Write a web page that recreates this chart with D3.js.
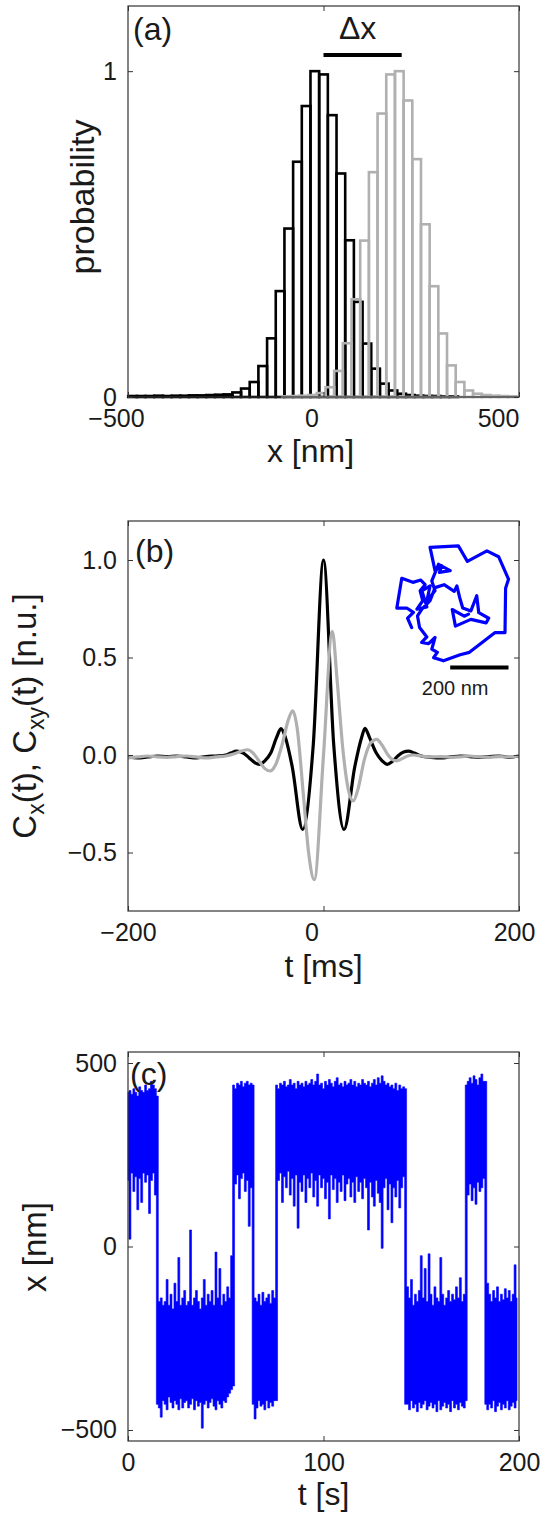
<!DOCTYPE html>
<html>
<head>
<meta charset="utf-8">
<script src="https://cdn.jsdelivr.net/npm/d3@7"></script>
<style>
  html, body { margin: 0; padding: 0; background: #fff; }
  svg { display: block; font-family: "Liberation Sans", Arial, Helvetica, sans-serif; }
</style>
</head>
<body>
<svg id="fig" width="543" height="1515"></svg>
<script>
/* Three stacked panels: (a) position histograms, (b) correlation functions + inset
   trajectory, (c) time trace of x(t) hopping between two states. */

// ---------- (a) histograms, bin centres in nm, heights normalised ----------
const BIN_W = 22.2;
const blackCenters = [-488.4, -466.2, -444, -421.8, -399.6, -377.4, -355.2, -333, -310.8, -288.6,
  -266.4, -244.2, -222, -199.8, -177.6, -155.4, -133.2, -111, -88.8, -66.6, -44.4, -22.2, 0,
  22.2, 44.4, 66.6, 88.8, 111, 133.2, 155.4, 177.6, 199.8, 222, 244.2, 266.4, 288.6, 310.8, 333];
const blackHeights = [0.003, 0.003, 0.003, 0.004, 0.003, 0.004, 0.004, 0.005, 0.005, 0.006,
  0.007, 0.008, 0.014, 0.026, 0.046, 0.095, 0.18, 0.325, 0.517, 0.722, 0.893, 1.0, 0.99,
  0.865, 0.686, 0.481, 0.292, 0.164, 0.087, 0.041, 0.02, 0.01, 0.006, 0.004, 0.003, 0.003, 0.002, 0.002];
const grayCenters = [-94.8, -72.6, -50.4, -28.2, -6, 16.2, 38.4, 60.6, 82.8, 105, 127.2, 149.4,
  171.6, 193.8, 216, 238.2, 260.4, 282.6, 304.8, 327, 349.2, 371.4, 393.6, 415.8, 438, 460.2, 482.4];
const grayHeights = [0.002, 0.003, 0.004, 0.006, 0.012, 0.03, 0.08, 0.165, 0.30, 0.48, 0.69, 0.87,
  0.99, 1.0, 0.91, 0.73, 0.53, 0.34, 0.195, 0.097, 0.046, 0.02, 0.01, 0.006, 0.004, 0.003, 0.002];
const DELTA_X = [0, 200];   // nm, bar above the peaks

// ---------- (b) correlation functions (t in ms) ----------
const cxT = [-200, -190, -180, -170, -160, -150, -140, -130, -120, -110, -100, -95, -88.8, -82, -76,
  -70, -65.7, -60, -54, -48, -43.5, -39, -32, -21.3, -10.5, 0, 10.5, 21, 32, 39, 42.5, 47, 54, 60,
  65.3, 70, 76, 82, 86.8, 93, 100, 110, 120, 130, 140, 150, 160, 170, 180, 190, 200];
const cxV = [-0.01, -0.015, -0.01, -0.005, -0.008, -0.005, -0.01, -0.015, -0.008, -0.005, 0.0, 0.01,
  0.02, 0.01, -0.015, -0.04, -0.048, -0.03, 0.01, 0.09, 0.135, 0.09, -0.06, -0.382, 0.05, 1.0, 0.05,
  -0.382, -0.06, 0.09, 0.137, 0.09, 0.01, -0.03, -0.048, -0.035, -0.005, 0.015, 0.02, 0.01, -0.005,
  -0.012, -0.015, -0.01, -0.005, -0.008, -0.012, -0.008, -0.005, -0.012, -0.005];
const cxyT = [-200, -190, -180, -170, -160, -150, -140, -130, -120, -110, -100, -92, -84, -77.6, -72,
  -66, -60, -54.7, -49, -42, -36, -31.5, -27, -20.5, -15, -9.4, 0, 9, 14, 20, 25.5, 30.5, 35, 42,
  48, 54.4, 60, 66, 71, 74.9, 80, 86, 92, 100, 110, 120, 130, 140, 150, 160, 170, 180, 190, 200];
const cxyV = [-0.015, -0.01, -0.005, -0.01, -0.012, -0.008, -0.005, -0.01, -0.015, -0.01, -0.005,
  0.005, 0.02, 0.027, 0.01, -0.03, -0.07, -0.082, -0.05, 0.06, 0.18, 0.226, 0.14, -0.21, -0.51,
  -0.639, 0.0, 0.634, 0.38, 0.02, -0.18, -0.236, -0.18, -0.02, 0.06, 0.08, 0.05, 0.0, -0.025, -0.03,
  -0.02, -0.005, 0.0, -0.005, -0.01, -0.008, -0.012, -0.01, -0.005, -0.01, -0.012, -0.008, -0.01, -0.005];

// inset trajectory (nm)
const trajX = [51, 37, 57, 34, 0, 6, 17, 55, 82, 97, 80, 89, 69, 103, 86, 114, 103, 131, 120, 143,
  183, 146, 154, 131, 114, 211, 242, 309, 349, 383, 373, 371, 337, 249, 217, 160, 126, 139, 120,
  131, 109, 85, 103, 78, 71, 86, 114, 131, 162, 197, 206, 215, 226, 254, 274, 281, 315, 306, 254,
  201, 190, 231, 246];
const trajY = [114, 146, 166, 181, 181, 217, 283, 269, 277, 261, 240, 206, 177, 185, 240, 257, 206,
  240, 274, 331, 309, 303, 326, 309, 389, 394, 341, 377, 357, 280, 249, 97, 97, 29, 21, 0, 11, 29,
  40, 80, 59, 63, 82, 114, 154, 177, 206, 251, 261, 238, 257, 219, 181, 171, 223, 165, 146, 130,
  142, 119, 176, 153, 160];
const SCALE_NM = 200;

// ---------- (c) trace: per-second max / min of x [nm] ----------
const traceHi = [
  420, 425, 415, 430, 420, 410, 435, 425, 420, 440, 425, 430, 450, 440, 430,
  410,
  -150, -140, -160, -150, -90, -160, -130, -170, -100, -150, -30, -160, -140, -120, -160, -150, 45,
  -160, -140, -120, -150, -170, -140, -90, -160, -130, -150, -120, -160, -15, -140, -60, -160, -130,
  -150, -110, -140, -25,
  440,
  430, 445, 440, 450, 435, 445, 450, 440, 445,
  440,
  -140, -150, -130, -160, -125, -150, -140, -130, -155, -120, -140,
  440,
  430, 445, 440, 450, 435, 440, 455, 440, 445, 430, 450, 440, 445, 435, 450, 440, 445, 455, 440, 450,
  470, 440, 445, 430, 450, 440, 455, 445, 435, 450, 460, 440, 445, 435, 450, 440, 445, 455, 440, 450,
  435, 445, 440, 455, 445, 440, 450, 435, 445, 455, 440, 460, 445, 465, 450, 440, 445, 435, 440, 430,
  445, 425, 440, 430, 435,
  430,
  -110, -140, -90, -160, -130, -150, -120, -25, -140, -60, -150, -20, -130, -160, -110, -140, -150,
  -30, -130, -160, -140, -120, -150, -130, -145, -110, -140, -85, -150, -130,
  440,
  450, 460, 445, 465, 455, 440, 460, 470, 450,
  450,
  -100, -130, -150, -120, -140, -110, -150, -130, -145, -115, -140, -120, -150, -130, -50, -140];
const traceLo = [
  180, 20, 200, 150, 190, 100, 185, 120, 200, 175, 195, 90, 180, 200, 140,
  -430,
  -440, -465, -420, -430, -445, -410, -425, -440, -420, -430, -445, -415, -440, -425, -420, -440,
  -430, -415, -445, -420, -435, -425, -495, -430, -420, -440, -425, -415, -435, -445, -420, -430,
  -440, -420, -425, -410, -400, -390,
  -380,
  170, 195, 130, 185, 200, 150, 180, 55, 160,
  -430,
  -470, -440, -420, -435, -430, -445, -420, -440, -425, -435, -420,
  -420,
  180, 200, 120, 190, 160, 205, 140, 185, 110, 195, 50, 175, 150, 195, 120, 185, 160, 200, 135, 180,
  110, 195, 160, 185, 130, 175, 75, 195, 155, 185, 120, 175, 150, 195, 125, 170, 185, 135, 175, 120,
  190, 150, 175, 130, 185, 160, 45, 175, 135, 110, 180, 145, 120, -5, 160, 185, 100, 170, 65, 160,
  135, 180, 105, 160, 190,
  -430,
  -430, -445, -420, -440, -430, -450, -425, -440, -430, -420, -445, -435, -425, -440, -430, -450,
  -420, -445, -435, -425, -440, -430, -450, -420, -440, -430, -445, -425, -435, -440,
  -420,
  140, 170, 125, 160, 115, 175, 150, 160, 185,
  -430,
  -445, -430, -440, -420, -450, -435, -425, -445, -430, -440, -420, -445, -435, -425, -440, -420];
const traceT = traceHi.map((_, i) => i);   // one sample per second

// ---------- drawing ----------
const svg = d3.select("#fig");
const INK = "#1a1a1a";
const FRAME = "#333";
const L = 128, R = 519;
const minus = s => String(s).replace(/-/g, "\u2212");

function axes(x, y, xTicks, yTicks, yFmt, xDx) {
  const [b, t] = y.range();
  const g = svg.append("g");
  const mk = (axis, tr) => g.append("g").attr("transform", tr).call(axis);

  const bottom = mk(d3.axisBottom(x).tickValues(xTicks).tickSizeInner(-5).tickSizeOuter(0)
    .tickPadding(12).tickFormat(minus), `translate(0,${b})`);
  mk(d3.axisTop(x).tickValues(xTicks).tickSizeInner(-5).tickSizeOuter(0).tickFormat(""), `translate(0,${t})`);
  mk(d3.axisLeft(y).tickValues(yTicks).tickSizeInner(-5).tickSizeOuter(0)
    .tickPadding(11).tickFormat(d => minus(yFmt(d))), `translate(${L},0)`);
  mk(d3.axisRight(y).tickValues(yTicks).tickSizeInner(-5).tickSizeOuter(0).tickFormat(""), `translate(${R},0)`);

  g.selectAll(".domain").remove();
  g.selectAll(".tick line").attr("stroke", FRAME);
  g.selectAll("text").attr("font-size", 25).attr("fill", INK).attr("font-family", null);
  if (xDx) bottom.selectAll("text").attr("dx", (d, i) => xDx[i]);

  g.append("rect").attr("x", L).attr("y", t).attr("width", R - L).attr("height", b - t)
    .attr("fill", "none").attr("stroke", FRAME).attr("stroke-width", 1.2);
  return g;
}

function label(txt, x, y, size, rotate) {
  const el = svg.append("text").attr("font-size", size).attr("fill", INK)
    .attr("text-anchor", "middle");
  if (rotate) el.attr("transform", `translate(${x},${y}) rotate(-90)`);
  else el.attr("x", x).attr("y", y);
  el.text(txt);
  return el;
}

/* ---- panel (a) ---- */
const xA = d3.scaleLinear().domain([-500, 500]).range([L, R]);
const yA = d3.scaleLinear().domain([0, 1.2]).range([397, 6]);

function hist(centers, heights, color) {
  svg.append("g").selectAll("rect")
    .data(centers.map((c, i) => ({ c, h: heights[i] })))
    .join("rect")
    .attr("x", d => xA(d.c - BIN_W / 2))
    .attr("width", d => xA(d.c + BIN_W / 2) - xA(d.c - BIN_W / 2))
    .attr("y", d => yA(d.h))
    .attr("height", d => yA(0) - yA(d.h))
    .attr("fill", "none")
    .attr("stroke", color)
    .attr("stroke-width", 2.6);
}
hist(blackCenters, blackHeights, "#000");
hist(grayCenters, grayHeights, "#b0b0b0");

svg.append("line")
  .attr("x1", xA(DELTA_X[0])).attr("x2", xA(DELTA_X[1]))
  .attr("y1", yA(1.05)).attr("y2", yA(1.05))
  .attr("stroke", "#000").attr("stroke-width", 4);
label("\u0394x", xA((DELTA_X[0] + DELTA_X[1]) / 2) - 5, yA(1.1), 32);

axes(xA, yA, [-500, 0, 500], [0, 1], d3.format("d"), [-12, -12, -21]);
svg.append("text").attr("x", 133).attr("y", 40).attr("font-size", 32).attr("fill", INK).text("(a)");
label("x [nm]", (L + R) / 2 - 13, 462, 32);
label("probability", 94, 197, 34, true);

/* ---- panel (b) ---- */
const xB = d3.scaleLinear().domain([-200, 200]).range([L, R]);
const yB = d3.scaleLinear().domain([-0.8, 1.2]).range([911, 521]);

svg.append("clipPath").attr("id", "clipB").append("rect")
  .attr("x", L).attr("y", 521).attr("width", R - L).attr("height", 911 - 521);

const lineB = d3.line().x(d => xB(d[0])).y(d => yB(d[1])).curve(d3.curveMonotoneX);
const gB = svg.append("g").attr("clip-path", "url(#clipB)");
gB.append("path").datum(cxT.map((t, i) => [t, cxV[i]])).attr("d", lineB)
  .attr("fill", "none").attr("stroke", "#000").attr("stroke-width", 3.2);
gB.append("path").datum(cxyT.map((t, i) => [t, cxyV[i]])).attr("d", lineB)
  .attr("fill", "none").attr("stroke", "#b0b0b0").attr("stroke-width", 3.2);

// inset trajectory, 200 nm = 58.3 px
const ix0 = xB(75), iy0 = yB(0.483);
const ix = d3.scaleLinear().domain([0, SCALE_NM]).range([ix0, ix0 + 58.33]);
const iy = d3.scaleLinear().domain([0, SCALE_NM]).range([iy0, iy0 - 58.33]);
svg.append("path")
  .datum(trajX.map((x, i) => [x, trajY[i]]))
  .attr("d", d3.line().x(d => ix(d[0])).y(d => iy(d[1])))
  .attr("fill", "none").attr("stroke", "#0000ff").attr("stroke-width", 3.2)
  .attr("stroke-linejoin", "round").attr("stroke-linecap", "round");
svg.append("line")
  .attr("x1", ix(183)).attr("x2", ix(183 + SCALE_NM))
  .attr("y1", iy(-23)).attr("y2", iy(-23))
  .attr("stroke", "#000").attr("stroke-width", 4);
label(SCALE_NM + " nm", ix(200), iy(-23) + 27, 20);

axes(xB, yB, [-200, 0, 200], [-0.5, 0, 0.5, 1.0], d3.format(".1f"), [0, -12, -5]);
svg.append("text").attr("x", 135).attr("y", 562).attr("font-size", 32).attr("fill", INK).text("(b)");
label("t [ms]", (L + R) / 2, 977, 32);
const yl = label("", 36, 716, 33, true);
yl.append("tspan").text("C");
yl.append("tspan").attr("font-size", 23).attr("dy", 8).text("x");
yl.append("tspan").attr("dy", -8).text("(t), C");
yl.append("tspan").attr("font-size", 23).attr("dy", 8).text("xy");
yl.append("tspan").attr("dy", -8).text("(t) [n.u.]");

/* ---- panel (c) ---- */
const xC = d3.scaleLinear().domain([0, 200]).range([L, R]);
const yC = d3.scaleLinear().domain([-530, 530]).range([1441, 1052]);

svg.append("path")
  .datum(traceT.map((t, i) => ({ t, hi: traceHi[i], lo: traceLo[i] })))
  .attr("d", d3.area().curve(d3.curveStep)
    .x(d => xC(d.t)).y0(d => yC(d.lo)).y1(d => yC(d.hi)))
  .attr("fill", "#0000ff").attr("stroke", "#0000ff").attr("stroke-width", 0.6);

axes(xC, yC, [0, 100, 200], [-500, 0, 500], d3.format("d"));
svg.append("text").attr("x", 130).attr("y", 1085).attr("font-size", 32).attr("fill", INK).text("(c)");
label("t [s]", (L + R) / 2, 1505, 32);
label("x [nm]", 46, 1247, 33, true);
</script>
</body>
</html>
